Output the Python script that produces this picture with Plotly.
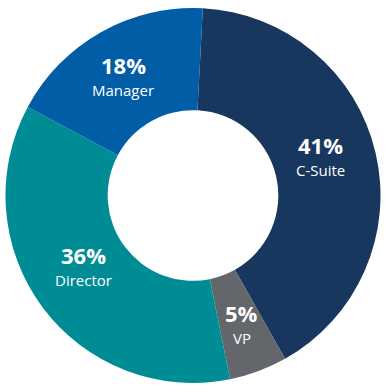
import math
import plotly.graph_objects as go

categories = ["C-Suite", "VP", "Director", "Manager"]
values = [41, 5, 36, 18]
colors = ["#18375F", "#63666A", "#008C95", "#005DA6"]

W = H = 387
cx, cy, R = 193.0, 195.5, 187.5   # pixel centre / radius
hole = 0.455
rotation = 3
# small per-label nudges (pixels, right / down)
nudge = {"C-Suite": (-5, -6), "VP": (1, 3), "Director": (0, -9), "Manager": (-3, 1)}

fig = go.Figure(go.Pie(
    labels=categories, values=values, hole=hole, sort=False,
    direction="clockwise", rotation=rotation,
    marker=dict(colors=colors, line=dict(width=0)),
    textinfo="none", hoverinfo="label+percent", showlegend=False,
    domain=dict(x=[(cx - R) / W, (cx + R) / W],
                y=[(H - cy - R) / H, (H - cy + R) / H]),
))

total = sum(values)
cum = 0
rmid = R * (1 + hole) / 2
annotations = []
for cat, v in zip(categories, values):
    mid = rotation + (cum + v / 2) / total * 360
    cum += v
    a = math.radians(mid)
    dx, dy = nudge[cat]
    px = cx + rmid * math.sin(a) + dx
    py = cy - rmid * math.cos(a) + dy
    x = px / W
    y = (H - py) / H
    pct = round(v / total * 100)
    annotations.append(dict(x=x, y=y, xref="paper", yref="paper", showarrow=False,
                            xanchor="center", yanchor="middle",
                            text=f"<b>{pct}%</b>", yshift=13,
                            font=dict(family="Open Sans", size=22, color="white")))
    annotations.append(dict(x=x, y=y, xref="paper", yref="paper", showarrow=False,
                            xanchor="center", yanchor="middle",
                            text=cat, yshift=-12,
                            font=dict(family="Open Sans", size=15, color="white")))

fig.update_layout(width=W, height=H, margin=dict(l=0, r=0, t=0, b=0),
                  paper_bgcolor="white", plot_bgcolor="white",
                  annotations=annotations)
fig.write_html("out.html", config={"displayModeBar": False},
               post_script="document.body.style.margin='0px';")
